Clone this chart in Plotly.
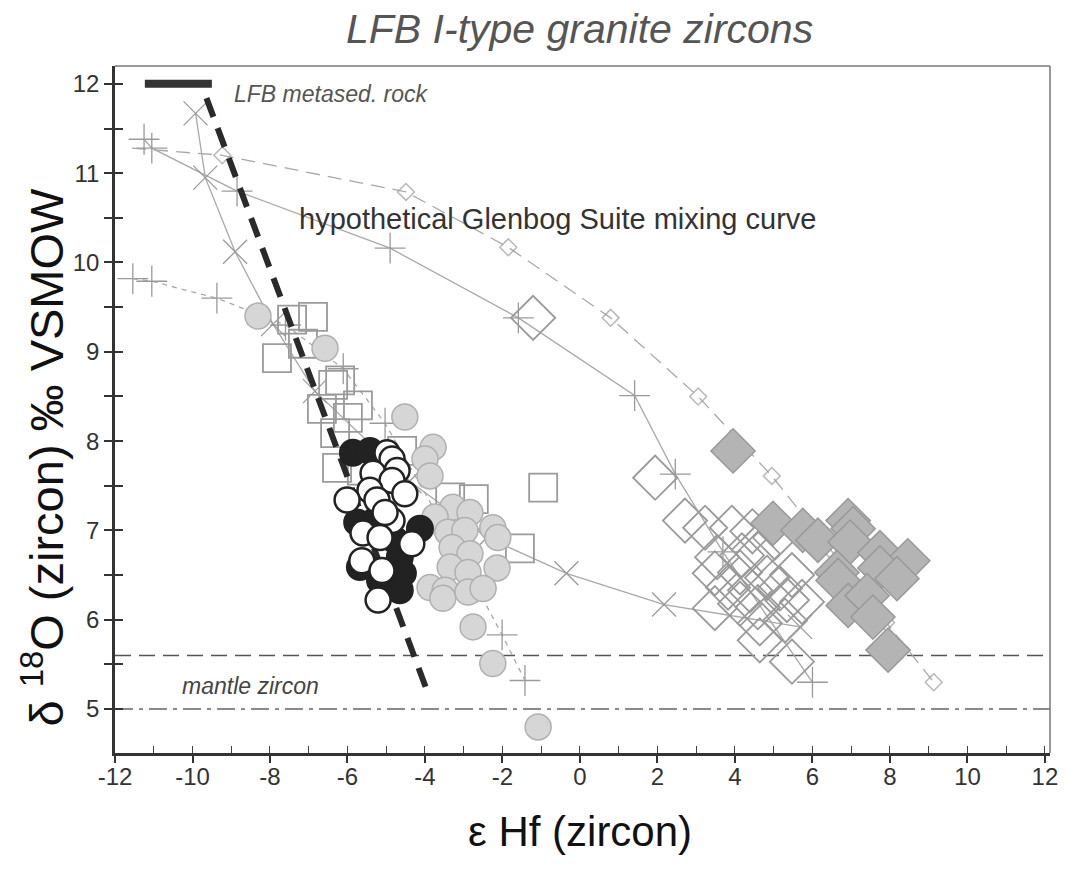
import plotly.graph_objects as go

# ---------------- data ----------------
# open squares
sq_x = [-6.89, -7.43, -7.15, -7.82, -6.19, -6.37, -6.66, -5.73, -5.99, -6.32, -6.27, -5.63,
        -4.59, -3.35, -2.74, -0.95, -1.55]
sq_y = [9.39, 9.36, 9.09, 8.93, 8.68, 8.63, 8.36, 8.40, 8.26, 8.09, 7.70, 7.67,
        7.89, 7.37, 7.35, 7.48, 6.80]

# grey filled circles
gc_x = [-8.31, -6.58, -4.52, -3.79, -4.00, -3.87, -3.28, -2.84, -3.74, -3.41, -2.97, -2.25,
        -2.12, -3.30, -2.84, -3.35, -2.89, -2.14, -3.87, -3.48, -3.54, -2.89, -2.50, -2.76,
        -2.25, -1.08]
gc_y = [9.40, 9.04, 8.27, 7.93, 7.80, 7.61, 7.26, 7.20, 7.15, 6.98, 7.00, 7.03,
        6.92, 6.81, 6.74, 6.59, 6.53, 6.58, 6.36, 6.33, 6.24, 6.31, 6.35, 5.92,
        5.51, 4.80]

# black filled circles
bc_x = [-5.86, -5.42, -5.75, -5.29, -4.13, -4.65, -4.57, -4.98, -4.65, -5.68, -4.77, -5.16]
bc_y = [7.87, 7.89, 7.09, 7.11, 7.02, 6.70, 6.52, 6.36, 6.33, 6.59, 6.89, 6.44]

# white circles (black outline)
wc_x = [-4.98, -4.85, -5.34, -4.72, -4.85, -5.42, -4.52, -6.01, -5.24, -4.85, -5.60, -5.16,
        -4.34, -5.63, -5.11, -5.21, -5.03]
wc_y = [7.87, 7.80, 7.64, 7.67, 7.56, 7.45, 7.41, 7.34, 7.34, 7.11, 6.97, 6.92,
        6.85, 6.66, 6.55, 6.22, 7.20]

# large open diamonds
od_x = [-1.21, 1.94, 2.71, 3.23, 3.92, 4.45, 5.03, 3.54, 4.18, 4.59, 3.48, 4.13, 4.83, 5.47,
        3.82, 4.39, 5.16, 3.48, 4.13, 4.59, 5.34, 5.73, 4.64, 5.29, 4.64, 5.47]
od_y = [9.38, 7.59, 7.11, 7.03, 7.03, 6.99, 6.92, 6.70, 6.72, 6.74, 6.52, 6.53, 6.47, 6.50,
        6.36, 6.33, 6.35, 6.13, 6.18, 6.14, 6.22, 6.20, 5.96, 5.99, 5.77, 5.53]

# grey filled diamonds
fd_x = [3.95, 4.98, 5.75, 6.14, 6.92, 7.05, 6.97, 6.63, 6.66, 7.74, 8.46, 7.74, 8.18,
        6.92, 7.41, 7.56, 7.95]
fd_y = [7.89, 7.08, 7.00, 6.89, 7.11, 7.02, 6.87, 6.53, 6.44, 6.75, 6.66, 6.58, 6.46,
        6.16, 6.27, 6.03, 5.66]

# mixing curve: dashed line with small open diamonds
mixd_x = [-11.56, -9.23, -4.49, -1.85, 0.79, 3.05, 4.95, 6.51, 7.90, 9.13]
mixd_y = [11.28, 11.20, 10.79, 10.17, 9.38, 8.50, 7.61, 6.76, 5.97, 5.30]

# mixing curve: solid line with plus markers
mixp_x = [-11.25, -11.05, -8.85, -4.90, -1.59, 1.41, 2.46, 3.69, 6.00]
mixp_y = [11.38, 11.28, 10.80, 10.16, 9.38, 8.51, 7.63, 6.76, 5.30]

# mixing curve: solid line with x markers
mixx_x = [-9.92, -9.67, -8.90, -7.92, -6.84, -4.40, -2.40, -0.35, 2.17, 5.68]
mixx_y = [11.67, 10.95, 10.12, 9.31, 8.56, 7.55, 6.92, 6.52, 6.17, 5.92]

# dotted curve with plus markers
dotp_x = [-11.54, -11.05, -9.37, -7.60, -6.11, -5.03, -3.41, -2.66, -2.01, -1.42]
dotp_y = [9.82, 9.79, 9.60, 9.30, 8.81, 8.20, 6.97, 6.36, 5.83, 5.32]

# LFB metasedimentary rock bar and the thick dashed trend
rock_x = [-11.23, -9.50]
rock_y = [12.0, 12.0]
trend_x = [-9.64, -3.95]
trend_y = [11.84, 5.21]

# mantle zircon band
mantle_y = [5.0, 5.6]
x_range = [-12, 12.13]
y_range = [4.508, 12.2]

x_major = [-12, -10, -8, -6, -4, -2, 0, 2, 4, 6, 8, 10, 12]
x_labels = ["-12", "-10", "-8", "-6", "-4", "-2", "0", "2", "4", "6", "8", "10", "12"]
x_minor = list(range(-12, 13))
y_ticks = [5, 5.5, 6, 6.5, 7, 7.5, 8, 8.5, 9, 9.5, 10, 10.5, 11, 11.5, 12]
y_text = ["5", "", "6", "", "7", "", "8", "", "9", "", "10", "", "11", "", "12"]

# ---------------- figure ----------------
GREY_LINE = "#a8a8a8"
GREY_MK = "#9a9a9a"
FONT = "Liberation Sans Narrow, Arial Narrow, Liberation Sans, Arial, sans-serif"
SANS = "Liberation Sans, Arial, sans-serif"

fig = go.Figure()

# mantle lines
fig.add_trace(go.Scatter(x=[x_range[0], x_range[1]], y=[mantle_y[1]] * 2, mode="lines",
                         line=dict(color="#555", width=1.5, dash="16px,8px"), hoverinfo="skip"))
fig.add_trace(go.Scatter(x=[x_range[0], x_range[1]], y=[mantle_y[0]] * 2, mode="lines",
                         line=dict(color="#666", width=1.5, dash="18px,6px,4px,6px"), hoverinfo="skip"))

# curves
fig.add_trace(go.Scatter(x=mixd_x, y=mixd_y, mode="lines+markers",
                         line=dict(color=GREY_LINE, width=1.3, dash="14px,8px"),
                         marker=dict(symbol="diamond-open", size=[0] + [13] * (len(mixd_x) - 1),
                                     color=GREY_MK, line=dict(width=1.5, color=GREY_MK))))
fig.add_trace(go.Scatter(x=mixp_x, y=mixp_y, mode="lines+markers",
                         line=dict(color=GREY_LINE, width=1.3),
                         marker=dict(symbol="cross-thin", size=22, color=GREY_MK,
                                     line=dict(width=1.3, color=GREY_MK))))
fig.add_trace(go.Scatter(x=mixx_x, y=mixx_y, mode="lines+markers",
                         line=dict(color=GREY_LINE, width=1.3),
                         marker=dict(symbol="x-thin", size=24, color=GREY_MK,
                                     line=dict(width=1.3, color=GREY_MK))))
fig.add_trace(go.Scatter(x=dotp_x, y=dotp_y, mode="lines+markers",
                         line=dict(color=GREY_LINE, width=1.3, dash="5px,5px"),
                         marker=dict(symbol="cross-thin", size=22, color=GREY_MK,
                                     line=dict(width=1.3, color=GREY_MK))))

# open squares
fig.add_trace(go.Scatter(x=sq_x, y=sq_y, mode="markers",
                         marker=dict(symbol="square-open", size=28, color=GREY_MK,
                                     line=dict(width=1.8, color=GREY_MK))))
# grey circles
fig.add_trace(go.Scatter(x=gc_x, y=gc_y, mode="markers",
                         marker=dict(symbol="circle", size=26, color="#d6d6d6",
                                     line=dict(width=1.5, color="#b0b0b0"))))
# thick dashed trend
fig.add_trace(go.Scatter(x=trend_x, y=trend_y, mode="lines",
                         line=dict(color="#2a2a2a", width=6, dash="20px,12px")))
# black circles
fig.add_trace(go.Scatter(x=bc_x, y=bc_y, mode="markers",
                         marker=dict(symbol="circle", size=26, color="#222",
                                     line=dict(width=2, color="#222"))))
# white circles
fig.add_trace(go.Scatter(x=wc_x, y=wc_y, mode="markers",
                         marker=dict(symbol="circle", size=25, color="white",
                                     line=dict(width=2.5, color="#222"))))
# open diamonds
fig.add_trace(go.Scatter(x=od_x, y=od_y, mode="markers",
                         marker=dict(symbol="diamond-open", size=34, color=GREY_MK,
                                     line=dict(width=1.8, color=GREY_MK))))
# filled diamonds
fig.add_trace(go.Scatter(x=fd_x, y=fd_y, mode="markers",
                         marker=dict(symbol="diamond", size=34, color="#b4b4b4",
                                     line=dict(width=1.5, color="#999"))))
# LFB metased rock bar
fig.add_trace(go.Scatter(x=rock_x, y=rock_y, mode="lines",
                         line=dict(color="#333", width=8)))

# dummy traces for the overlay tick axes
fig.add_trace(go.Scatter(x=[None], y=[None], xaxis="x2", yaxis="y2", hoverinfo="skip"))
fig.add_trace(go.Scatter(x=[None], y=[None], xaxis="x3", yaxis="y", hoverinfo="skip"))

fig.update_layout(
    width=1081, height=881,
    margin=dict(l=115, r=31, t=66, b=128),
    paper_bgcolor="white", plot_bgcolor="white",
    showlegend=False,
    font=dict(family=FONT, color="#333"),
    xaxis=dict(range=x_range, showgrid=False, zeroline=False,
               showline=True, linecolor="#333", linewidth=2.5,
               ticks="", tickmode="array", tickvals=x_major, ticktext=x_labels,
               tickfont=dict(size=24, color="#333", family=FONT)),
    yaxis=dict(range=y_range, showgrid=False, zeroline=False,
               showline=True, linecolor="#333", linewidth=2.5,
               ticks="outside", ticklen=8, tickwidth=1.5, tickcolor="#333",
               tickmode="array", tickvals=y_ticks, ticktext=y_text,
               tickfont=dict(size=24, color="#333", family=FONT)),
    xaxis2=dict(range=x_range, overlaying="x", anchor="y", side="bottom",
                showgrid=False, zeroline=False, showline=False, showticklabels=False,
                ticks="outside", ticklen=9, tickwidth=1.5, tickcolor="#333",
                tickmode="array", tickvals=x_major),
    xaxis3=dict(range=x_range, overlaying="x", anchor="y", side="bottom",
                showgrid=False, zeroline=False, showline=False, showticklabels=False,
                ticks="inside", ticklen=7, tickwidth=1.3, tickcolor="#444",
                tickmode="array", tickvals=x_minor),
    yaxis2=dict(range=y_range, overlaying="y", anchor="x", side="left",
                showgrid=False, zeroline=False, showline=False, showticklabels=False,
                ticks="inside", ticklen=8, tickwidth=1.5, tickcolor="#333",
                tickmode="array", tickvals=y_ticks),
    shapes=[
        dict(type="line", xref="paper", yref="paper", x0=0, x1=1, y0=1, y1=1,
             line=dict(color="#777", width=1.5)),
        dict(type="line", xref="paper", yref="paper", x0=1, x1=1, y0=0, y1=1,
             line=dict(color="#777", width=1.5)),
    ],
    annotations=[
        dict(text="<i>LFB I-type granite zircons</i>", xref="paper", yref="paper",
             x=0.497, y=1.0, yshift=12, xanchor="center", yanchor="bottom", showarrow=False,
             font=dict(size=41, color="#555", family=SANS)),
        dict(text="δ <sup>18</sup>O (zircon) ‰ VSMOW", xref="paper", yref="paper",
             x=0, xshift=-72, y=0.43, textangle=-90, xanchor="center", yanchor="middle",
             showarrow=False,
             font=dict(size=47, color="#111", family=SANS)),
        dict(text="ε Hf (zircon)", xref="paper", yref="paper",
             x=0.497, y=0, yshift=-78, xanchor="center", yanchor="middle", showarrow=False,
             font=dict(size=42, color="#111", family=FONT)),
        dict(text="<i>LFB metased. rock</i>", x=-8.98, y=11.89, xanchor="left", yanchor="middle",
             showarrow=False, font=dict(size=23, color="#555", family=SANS)),
        dict(text="hypothetical Glenbog Suite mixing curve", x=-7.3, y=10.49,
             xanchor="left", yanchor="middle", showarrow=False,
             font=dict(size=29, color="#333", family=SANS)),
        dict(text="<i>mantle zircon</i>", x=-10.32, y=5.26, xanchor="left", yanchor="middle",
             showarrow=False, font=dict(size=23, color="#444", family=SANS)),
    ],
)

fig.write_html("out.html")
